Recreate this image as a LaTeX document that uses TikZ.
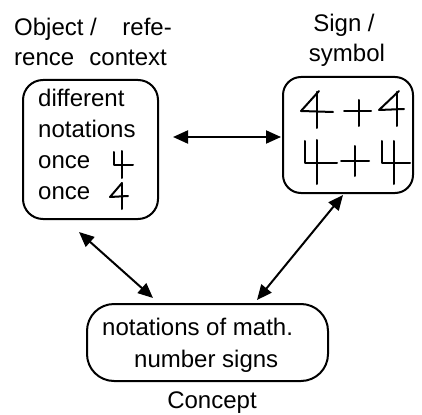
\documentclass[tikz,border=0pt]{standalone}
\usepackage{fontspec}
\setmainfont{Liberation Sans}
\usetikzlibrary{arrows.meta}
\begin{document}
\begin{tikzpicture}[x=1pt,y=-1pt,
  txt/.style={anchor=base west,inner sep=0pt,font=\fontsize{24}{28}\selectfont},
  ctxt/.style={anchor=base,inner sep=0pt,font=\fontsize{24}{28}\selectfont},
  box/.style={draw,line width=2pt,inner sep=0pt},
  hand/.style={line width=2pt,line cap=round,line join=round},
  dbl/.style={line width=2pt,{Triangle[length=15pt,width=13pt]}-{Triangle[length=15pt,width=13pt]}}]
\useasboundingbox (0,0) rectangle (422,414);
% boxes
\node[box,rounded corners=20pt,minimum width=135pt,minimum height=139pt] (obj) at (90.5,149.5) {};
\node[box,rounded corners=18pt,minimum width=130pt,minimum height=116pt] (sign) at (348,135) {};
\node[box,rounded corners=27pt,minimum width=241pt,minimum height=77pt] (conc) at (207.5,342.5) {};
% labels
\node[txt] (l1) at (14,36) {Object /};
\node[txt,anchor=base east] (l2) at (172,36) {refe-};
\node[txt] (l3) at (14,66) {rence};
\node[txt,anchor=base east] (l4) at (167,66) {context};
\node[ctxt] (s1) at (344,32) {Sign /};
\node[ctxt] (s2) at (347,62) {symbol};
\node[ctxt] (c1) at (212,408) {Concept};
% left box text
\node[txt] (t1) at (38,107) {different};
\node[txt] (t2) at (38,138) {notations};
\node[txt] (t3) at (38,168) {once};
\node[txt] (t4) at (38,199) {once};
% bottom box text
\node[txt] (b1) at (102,335) {notations of math.};
\node[txt] (b2) at (134,367) {number signs};
% handwritten digits in left box
\draw[hand] (114,152) -- (114,165) -- (133,165);
\draw[hand] (122,151) -- (122,178);
\draw[hand] (122,183) -- (110,197) -- (128,196);
\draw[hand] (122,183) -- (122,209);
% handwritten digits in right box, row 1
\draw[hand] (319,91) -- (301,111) -- (333,112);
\draw[hand] (317,92) -- (317,128);
\draw[hand] (344,111) -- (371,111);
\draw[hand] (359,100) -- (359,126);
\draw[hand] (399,91) -- (379,110) -- (404,109);
\draw[hand] (397,92) -- (397,126);
% row 2
\draw[hand] (305,141) -- (305,163) -- (337,163);
\draw[hand] (317,140) -- (317,184);
\draw[hand] (341,161) -- (369,161);
\draw[hand] (355,146) -- (355,176);
\draw[hand] (382,141) -- (382,163) -- (410,163);
\draw[hand] (394,141) -- (394,184);
% connectors
\coordinate (h1) at (173,137);
\coordinate (h2) at (281,137);
\coordinate (d1) at (79,232);
\coordinate (d2) at (153,298);
\coordinate (e1) at (257,300);
\coordinate (e2) at (343,195);
\draw[dbl] (h1) -- (h2);
\draw[dbl] (d1) -- (d2);
\draw[dbl] (e1) -- (e2);
\end{tikzpicture}
\end{document}
